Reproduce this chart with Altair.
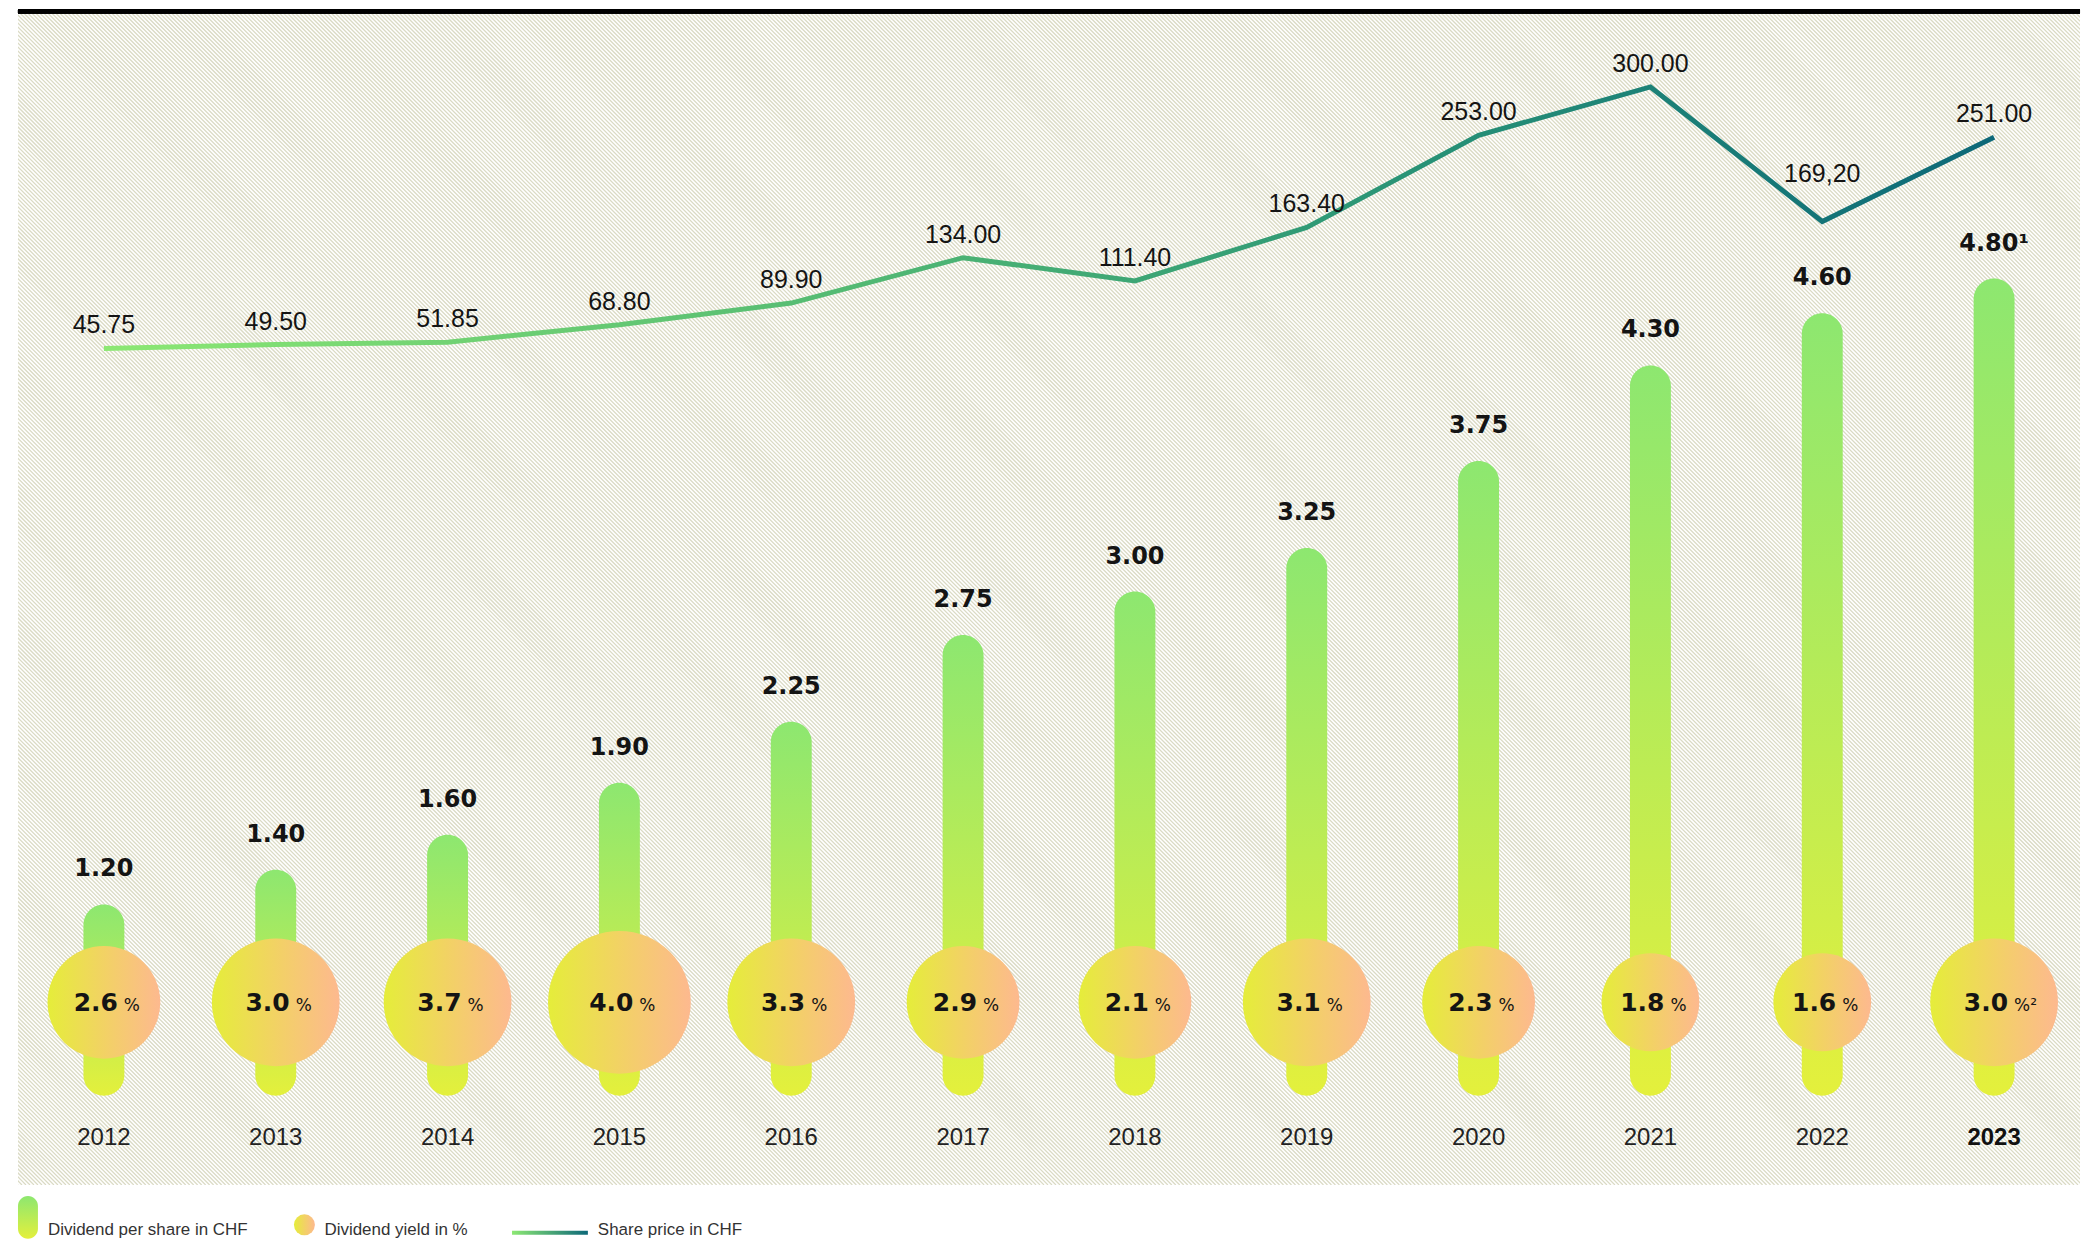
import altair as alt
import pandas as pd

# ---------------- data ----------------
years = [2012, 2013, 2014, 2015, 2016, 2017, 2018, 2019, 2020, 2021, 2022, 2023]
year_labels = ["2012", "2013", "2014", "2015", "2016", "2017", "2018", "2019",
               "2020", "2021", "2022", "2023"]
dividend = [1.20, 1.40, 1.60, 1.90, 2.25, 2.75, 3.00, 3.25, 3.75, 4.30, 4.60, 4.80]
dividend_labels = ["1.20", "1.40", "1.60", "1.90", "2.25", "2.75", "3.00", "3.25",
                   "3.75", "4.30", "4.60", "4.80¹"]
dividend_yield = [2.6, 3.0, 3.7, 4.0, 3.3, 2.9, 2.1, 3.1, 2.3, 1.8, 1.6, 3.0]
yield_suffix = ["%", "%", "%", "%", "%", "%", "%", "%", "%", "%", "%", "%²"]
share_price = [45.75, 49.50, 51.85, 68.80, 89.90, 134.00, 111.40, 163.40,
               253.00, 300.00, 169.20, 251.00]
share_price_labels = ["45.75", "49.50", "51.85", "68.80", "89.90", "134.00", "111.40",
                      "163.40", "253.00", "300.00", "169,20", "251.00"]
legend_labels = ["Dividend per share in CHF", "Dividend yield in %", "Share price in CHF"]

df = pd.DataFrame({
    "year": years,
    "year_label": year_labels,
    "dividend": dividend,
    "div_label": dividend_labels,
    "yield": dividend_yield,
    "suffix": yield_suffix,
    "price": share_price,
    "price_label": share_price_labels,
})

# ---------------- layout / style ----------------
W, H = 2066, 1178
BOLD_FONT = "DejaVu Sans"
REG_FONT = "Liberation Sans"
INK = "#141414"

bar_grad = {"gradient": "linear", "x1": 0, "y1": 0, "x2": 0, "y2": 1,
            "stops": [{"offset": 0, "color": "#8de770"},
                      {"offset": 1, "color": "#e4f03c"}]}
circ_grad = {"gradient": "linear", "x1": 0, "y1": 0, "x2": 1, "y2": 0,
             "stops": [{"offset": 0, "color": "#e5ed3a"},
                       {"offset": 0.5, "color": "#f2d264"},
                       {"offset": 1, "color": "#fdb98f"}]}
line_grad = {"gradient": "linear", "x1": 0, "y1": 0, "x2": 1, "y2": 0,
             "stops": [{"offset": 0, "color": "#8ce873"},
                       {"offset": 0.4, "color": "#52b973"},
                       {"offset": 0.7, "color": "#279276"},
                       {"offset": 1, "color": "#0c6878"}]}
legend_line_grad = {"gradient": "linear", "x1": 0, "y1": 0, "x2": 1, "y2": 0,
                    "stops": [{"offset": 0, "color": "#8ce873"},
                              {"offset": 1, "color": "#0c6878"}]}

x_scale = alt.Scale(type="point", padding=0.5)
div_scale = alt.Scale(domain=[-0.4133, 6.349], zero=False, nice=False)
price_scale = alt.Scale(domain=[-767.5, 375.6], zero=False, nice=False)
yield_size = alt.Scale(type="threshold", domain=[2, 3, 4],
                       range=[98 ** 2, 113 ** 2, 128 ** 2, 143 ** 2])

x_plain = alt.X("year:O", scale=x_scale, axis=None)

base = alt.Chart(df)

# hatch background texture
hatch = alt.Chart(alt.sequence(-H, W + 4, 4, as_="k")).transform_calculate(
    hx1="datum.k", hx2=f"datum.k + {H}"
).mark_rule(stroke="#dadac4", strokeWidth=1.3, clip=True).encode(
    x=alt.X("hx1:Q", scale=None), x2="hx2:Q",
    y=alt.value(0), y2=alt.value(H))

top_rule = alt.Chart(df).mark_rule(color="#000000", strokeWidth=4).encode(
    x=alt.value(0), x2=alt.value(W), y=alt.value(2))

bars = base.mark_bar(width=41, cornerRadius=20.5, fill=bar_grad).encode(
    x=x_plain, y=alt.Y("dividend:Q", scale=div_scale, axis=None), y2=alt.datum(0.1))

bar_labels = base.mark_text(font=BOLD_FONT, fontWeight="bold", fontSize=24,
                            baseline="alphabetic", dy=-28, color=INK).encode(
    x=x_plain, y=alt.Y("dividend:Q", scale=div_scale, axis=None), text="div_label:N")

circles = base.mark_circle(fill=circ_grad, opacity=1).encode(
    x=x_plain, y=alt.value(995),
    size=alt.Size("yield:Q", scale=yield_size, legend=None))

yield_num = base.mark_text(font=BOLD_FONT, fontWeight="bold", fontSize=25,
                           align="right", baseline="alphabetic", dx=14, color=INK).encode(
    x=x_plain, y=alt.value(1004), text=alt.Text("yield:Q", format=".1f"))

yield_pct = base.mark_text(font=BOLD_FONT, fontSize=17, align="left",
                           baseline="alphabetic", dx=20, color=INK).encode(
    x=x_plain, y=alt.value(1004), text="suffix:N")

year_text = base.transform_filter("datum.year != 2023").mark_text(
    font=REG_FONT, fontSize=24, baseline="alphabetic", color="#222222").encode(
    x=x_plain, y=alt.value(1138), text="year_label:N")
year_text_last = base.transform_filter("datum.year == 2023").mark_text(
    font=REG_FONT, fontSize=24, fontWeight="bold", baseline="alphabetic",
    color="#111111").encode(
    x=x_plain, y=alt.value(1138), text="year_label:N")

price_line = base.mark_line(stroke=line_grad, strokeWidth=5).encode(
    x=x_plain, y=alt.Y("price:Q", scale=price_scale, axis=None))

price_labels = base.transform_filter("datum.year != 2022").mark_text(
    font=REG_FONT, fontSize=25, baseline="alphabetic", dy=-15, color=INK).encode(
    x=x_plain, y=alt.Y("price:Q", scale=price_scale, axis=None), text="price_label:N")

price_labels_dip = base.transform_filter("datum.year == 2022").mark_text(
    font=REG_FONT, fontSize=25, baseline="alphabetic", dy=-40, color=INK).encode(
    x=x_plain, y=alt.Y("price:Q", scale=price_scale, axis=None), text="price_label:N")

main = alt.layer(bars, bar_labels, price_line, price_labels, price_labels_dip,
                 circles, yield_num, yield_pct, year_text, year_text_last
                 ).resolve_scale(y="independent")

# custom legend below the plot
leg = alt.Chart(pd.DataFrame({"label": legend_labels}))
LY = H + 50  # legend text baseline
leg_bar = leg.transform_filter(f"datum.label == '{legend_labels[0]}'").mark_bar(
    cornerRadius=10, fill=bar_grad).encode(
    x=alt.value(0), x2=alt.value(20), y=alt.value(LY - 39), y2=alt.value(LY + 4))
leg_dot = leg.transform_filter(f"datum.label == '{legend_labels[1]}'").mark_circle(
    fill=circ_grad, opacity=1, size=21 * 21).encode(
    x=alt.value(287), y=alt.value(LY - 10))
leg_line = leg.transform_filter(f"datum.label == '{legend_labels[2]}'").mark_bar(
    fill=legend_line_grad).encode(
    x=alt.value(495), x2=alt.value(571), y=alt.value(LY - 4), y2=alt.value(LY))
leg_text_style = dict(font=REG_FONT, fontSize=17, align="left",
                      baseline="alphabetic", color="#333333")
leg_t1 = leg.transform_filter(f"datum.label == '{legend_labels[0]}'").mark_text(
    **leg_text_style).encode(x=alt.value(30), y=alt.value(LY), text="label:N")
leg_t2 = leg.transform_filter(f"datum.label == '{legend_labels[1]}'").mark_text(
    **leg_text_style).encode(x=alt.value(307), y=alt.value(LY), text="label:N")
leg_t3 = leg.transform_filter(f"datum.label == '{legend_labels[2]}'").mark_text(
    **leg_text_style).encode(x=alt.value(581), y=alt.value(LY), text="label:N")

chart = alt.layer(
    hatch, top_rule, main, leg_bar, leg_dot, leg_line, leg_t1, leg_t2, leg_t3
).resolve_scale(x="independent", y="independent").properties(
    width=W, height=H,
    padding={"left": 8, "top": 0, "right": 0, "bottom": 0},
    background="#ffffff",
).configure_view(stroke=None)

chart.save("out.html", embed_options={"renderer": "svg", "actions": False})
